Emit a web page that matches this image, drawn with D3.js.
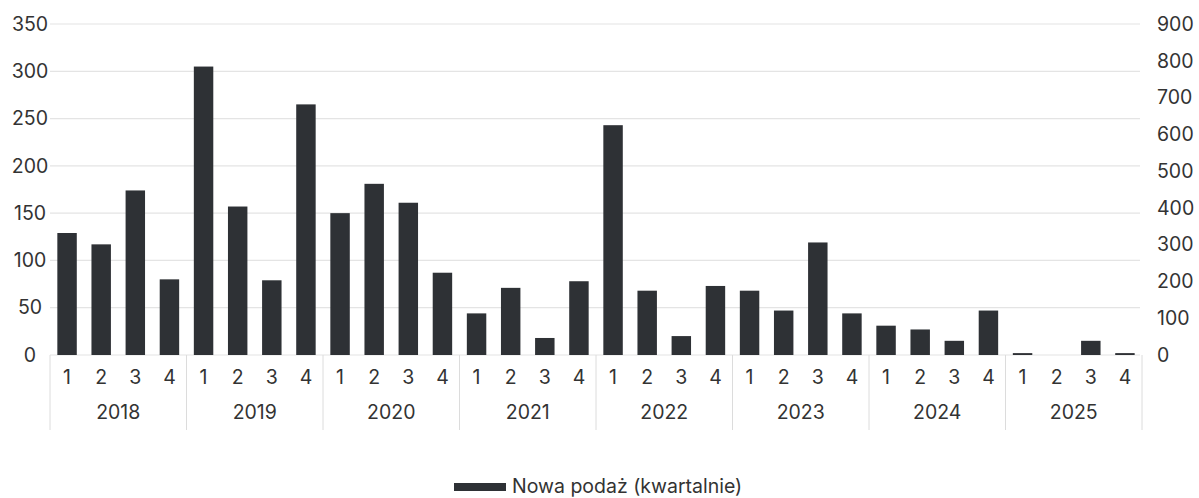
<!DOCTYPE html>
<html>
<head>
<meta charset="utf-8">
<script src="https://cdn.jsdelivr.net/npm/d3@7"></script>
<style>
  html, body { margin: 0; padding: 0; background: #fff; }
  svg { display: block; font-family: Inter, "Noto Sans", sans-serif; }
</style>
</head>
<body>
<svg id="chart" width="1199" height="498"></svg>
<script>
// Quarterly new supply, 2018–2025
const years = ["2018", "2019", "2020", "2021", "2022", "2023", "2024", "2025"];
const quarters = ["1", "2", "3", "4"];
const supply = [
  129, 117, 174, 80,   // 2018
  305, 157, 79, 265,   // 2019
  150, 181, 161, 87,   // 2020
  44, 71, 18, 78,      // 2021
  243, 68, 20, 73,     // 2022
  68, 47, 119, 44,     // 2023
  31, 27, 15, 47,      // 2024
  2, 0, 15, 2          // 2025
];
const leftTicks = [0, 50, 100, 150, 200, 250, 300, 350];
const rightTicks = [0, 100, 200, 300, 400, 500, 600, 700, 800, 900];
const legendLabel = "Nowa podaż (kwartalnie)";

const data = [];
years.forEach((yr, i) => quarters.forEach((q, j) => {
  data.push({ key: yr + "-" + q, year: yr, quarter: q, value: supply[i * 4 + j] });
}));

const svg = d3.select("#chart");
const plotLeft = 50, plotRight = 1142, plotTop = 24, plotBase = 355;
const barColor = "#2e3135";
const textColor = "#333";
const gridColor = "#e4e4e4";
const fontSize = "19.5px";

const x = d3.scaleBand().domain(data.map(d => d.key)).range([plotLeft, plotRight]).paddingInner(0.43).paddingOuter(0.215);
const xYear = d3.scaleBand().domain(years).range([plotLeft, plotRight]);
const y = d3.scaleLinear().domain([0, 350]).range([plotBase, plotTop]);
const y2 = d3.scaleLinear().domain([0, 900]).range([plotBase, plotTop]);

// gridlines
svg.append("g")
  .selectAll("line").data(leftTicks).join("line")
  .attr("x1", plotLeft).attr("x2", 1140)
  .attr("y1", d => y(d)).attr("y2", d => y(d))
  .attr("stroke", gridColor).attr("stroke-width", 1.2);

// left axis
const yAxis = d3.axisLeft(y).tickValues(leftTicks).tickSize(0).tickPadding(0);
const gy = svg.append("g").attr("transform", "translate(30,0)").call(yAxis);
gy.select(".domain").remove();
gy.attr("font-family", null);
gy.selectAll("text").attr("text-anchor", "middle").attr("x", 0)
  .style("font-size", fontSize).attr("fill", textColor);

// right axis
const y2Axis = d3.axisRight(y2).tickValues(rightTicks).tickSize(0).tickPadding(0);
const gy2 = svg.append("g").attr("transform", "translate(1157,0)").call(y2Axis);
gy2.select(".domain").remove();
gy2.attr("font-family", null);
gy2.selectAll("text").attr("x", 0).style("font-size", fontSize).attr("fill", textColor);

// bars
svg.append("g")
  .selectAll("rect").data(data).join("rect")
  .attr("x", d => x(d.key))
  .attr("width", x.bandwidth())
  .attr("y", d => y(d.value))
  .attr("height", d => plotBase - y(d.value))
  .attr("fill", barColor);

// category axis: quarter labels
svg.append("g")
  .selectAll("text").data(data).join("text")
  .attr("x", d => x(d.key) + x.bandwidth() / 2)
  .attr("y", 377)
  .attr("dy", "0.35em")
  .attr("text-anchor", "middle")
  .style("font-size", fontSize)
  .attr("fill", textColor)
  .text(d => d.quarter);

// year group labels
svg.append("g")
  .selectAll("text").data(years).join("text")
  .attr("x", d => xYear(d) + xYear.bandwidth() / 2)
  .attr("y", 412)
  .attr("dy", "0.35em")
  .attr("text-anchor", "middle")
  .style("font-size", fontSize)
  .attr("fill", textColor)
  .text(d => d);

// year separators
const seps = years.map(d => xYear(d)).concat([plotRight]);
svg.append("g")
  .selectAll("line").data(seps).join("line")
  .attr("x1", d => d).attr("x2", d => d)
  .attr("y1", plotBase).attr("y2", 430)
  .attr("stroke", "#dcdcdc").attr("stroke-width", 1);

// legend
const lg = svg.append("g").attr("transform", "translate(454,483)");
lg.append("rect").attr("width", 52).attr("height", 8).attr("fill", barColor);
lg.append("text").attr("x", 58).attr("y", 9.5)
  .style("font-size", "19.5px").attr("fill", textColor).text(legendLabel);
</script>
</body>
</html>
